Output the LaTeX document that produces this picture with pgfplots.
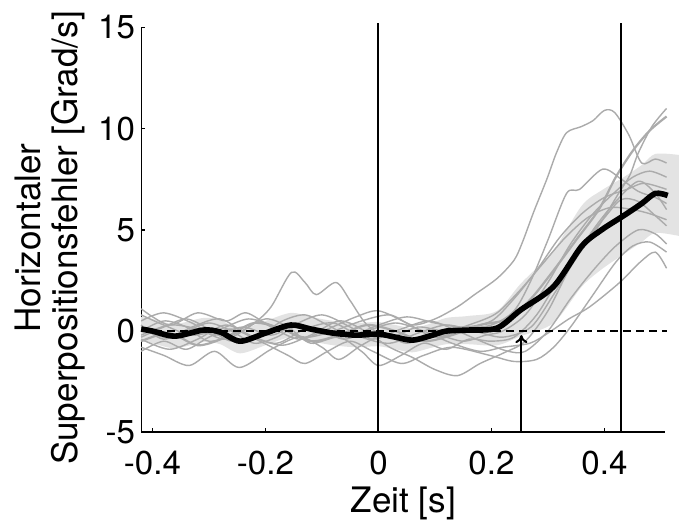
\documentclass[border=0pt]{standalone}
\usepackage{fontspec}
\setmainfont{TeX Gyre Heros}
\usepackage{pgfplots}
\pgfplotsset{compat=1.18}
\usepgfplotslibrary{fillbetween}
\usetikzlibrary{arrows.meta}
\definecolor{trace}{HTML}{ABABAB}
\definecolor{bandc}{HTML}{E3E3E3}
\begin{document}
\fontsize{16.5}{19}\selectfont
\begin{tikzpicture}
\begin{axis}[
 scale only axis, width=261.4pt, height=202pt,
 xmin=-0.4197, xmax=0.5077, ymin=-5, ymax=15,
 axis lines=left, axis line style={-, line width=0.8pt},
 clip=false,
 xtick={-0.4,-0.2,0,0.2,0.4}, xticklabels={-0.4,-0.2,0,0.2,0.4},
 ytick={-5,0,5,10,15}, yticklabels={-5,0,5,10,15},
 tick align=inside, major tick length=2pt, tick style={line width=0.8pt, black},
 xticklabel style={inner sep=0pt, anchor=north, yshift=-9pt},
 yticklabel style={inner sep=0pt, anchor=east, xshift=-3pt},
 xlabel={Zeit [s]},
 xlabel style={at={(axis description cs:0.5,-0.198)}, anchor=base, inner sep=2pt, font=\fontsize{17.5}{20}\selectfont},
 ylabel={Horizontaler\\Superpositionsfehler [Grad/s]},
 ylabel style={at={(axis description cs:-0.174,0.48)}, anchor=center, align=center, font=\fontsize{17.5}{18.5}\selectfont, inner xsep=5.5pt, inner ysep=7.5pt},
]
% band
\addplot[draw=none, smooth, name path=U] coordinates {(-0.42,0.7) (-0.40,0.6) (-0.36,0.35) (-0.31,0.65) (-0.28,0.55) (-0.245,0.1) (-0.20,0.5) (-0.155,0.9) (-0.12,0.7) (-0.08,0.5) (-0.04,0.4) (0,0.45) (0.03,0.3) (0.06,0.15) (0.09,0.35) (0.12,0.65) (0.16,0.75) (0.21,1.0) (0.252,2.35) (0.31,4.0) (0.36,6.2) (0.395,6.95) (0.434,7.6) (0.466,8.2) (0.49,8.75) (0.532,8.7)};
\addplot[draw=none, smooth, name path=L] coordinates {(-0.42,-0.5) (-0.40,-0.6) (-0.36,-0.85) (-0.31,-0.55) (-0.28,-0.65) (-0.245,-1.1) (-0.20,-0.7) (-0.155,-0.3) (-0.12,-0.5) (-0.08,-0.7) (-0.04,-0.8) (0,-0.75) (0.03,-0.9) (0.06,-1.05) (0.09,-0.85) (0.12,-0.65) (0.16,-0.65) (0.21,-0.7) (0.252,-0.25) (0.31,0.4) (0.36,2.2) (0.395,3.05) (0.434,3.8) (0.466,4.4) (0.49,4.85) (0.532,4.7)};
\addplot[fill=bandc, draw=none] fill between[of=U and L];
% traces
\addplot[trace, line width=0.7pt, smooth] coordinates {(-0.42,0.3) (-0.38,-0.4) (-0.33,0.2) (-0.28,0.6) (-0.23,-0.2) (-0.18,-0.6) (-0.13,0.1) (-0.08,0.4) (-0.03,-0.3) (0.02,-0.6) (0.07,-0.1) (0.12,0.3) (0.17,0.0) (0.22,-0.3) (0.27,0.2) (0.31,1.8) (0.35,3.6) (0.39,5.2) (0.425,6.8) (0.445,7.7) (0.46,8.8) (0.484,10.1) (0.51,11.0)};
\addplot[trace, line width=1.1pt, smooth] coordinates {(-0.42,-0.5) (-0.37,-0.1) (-0.32,-0.7) (-0.27,-0.3) (-0.22,0.4) (-0.17,0.1) (-0.12,-0.5) (-0.07,-0.2) (-0.02,0.3) (0.03,0.0) (0.08,-0.5) (0.13,-0.2) (0.18,0.3) (0.23,0.6) (0.27,1.6) (0.31,3.0) (0.35,4.5) (0.39,6.0) (0.42,7.6) (0.45,8.9) (0.48,9.9) (0.51,10.6)};
\addplot[trace, line width=0.7pt, smooth] coordinates {(-0.42,0.8) (-0.38,0.3) (-0.33,-0.2) (-0.28,0.1) (-0.23,0.6) (-0.18,0.2) (-0.13,-0.3) (-0.08,0.0) (-0.03,0.5) (0.02,0.8) (0.06,0.3) (0.10,0.6) (0.14,1.2) (0.17,1.8) (0.21,2.6) (0.24,3.5) (0.255,4.4) (0.275,5.9) (0.298,7.5) (0.315,8.8) (0.333,9.8) (0.359,10.1) (0.38,10.4) (0.40,10.9) (0.418,10.8) (0.443,9.7) (0.466,8.3) (0.49,8.5) (0.51,8.3)};
\addplot[trace, line width=0.7pt, smooth] coordinates {(-0.42,1.1) (-0.37,0.3) (-0.32,0.9) (-0.27,0.5) (-0.234,0.9) (-0.19,0.2) (-0.14,-0.4) (-0.09,0.1) (-0.04,0.7) (0.0,1.0) (0.05,0.4) (0.10,-0.3) (0.15,0.1) (0.20,0.3) (0.24,1.0) (0.27,2.5) (0.30,4.5) (0.333,6.8) (0.356,7.0) (0.397,8.0) (0.43,7.5) (0.46,6.9) (0.49,6.6) (0.51,6.3)};
\addplot[trace, line width=0.7pt, smooth] coordinates {(-0.42,-0.8) (-0.38,-1.2) (-0.335,-1.7) (-0.29,-1.0) (-0.246,-1.8) (-0.19,-0.9) (-0.14,-0.3) (-0.10,-0.8) (-0.07,-1.4) (-0.03,-0.7) (0.01,-0.2) (0.05,-0.6) (0.10,-0.2) (0.15,-0.5) (0.19,-0.2) (0.22,0.0) (0.26,0.8) (0.30,2.4) (0.34,4.3) (0.38,5.8) (0.42,6.9) (0.45,7.6) (0.48,7.9) (0.51,7.6)};
\addplot[trace, line width=0.7pt, smooth] coordinates {(-0.42,0.0) (-0.38,0.5) (-0.34,0.2) (-0.30,-0.5) (-0.25,-0.1) (-0.20,0.6) (-0.16,0.2) (-0.12,-0.6) (-0.07,-0.3) (-0.03,-1.0) (0.0,-1.7) (0.04,-1.2) (0.08,-0.6) (0.12,-0.9) (0.16,-0.4) (0.20,-0.5) (0.24,-0.3) (0.28,0.8) (0.32,2.6) (0.36,4.2) (0.40,5.6) (0.43,6.5) (0.46,6.4) (0.49,5.7) (0.51,5.2)};
\addplot[trace, line width=0.7pt, smooth] coordinates {(-0.42,-0.4) (-0.37,-0.9) (-0.32,-0.4) (-0.27,0.3) (-0.22,-0.3) (-0.17,-0.7) (-0.12,-0.2) (-0.07,0.5) (-0.03,0.1) (0.02,-0.8) (0.06,-1.3) (0.10,-1.9) (0.14,-2.2) (0.18,-1.6) (0.22,-1.1) (0.26,-0.5) (0.30,1.0) (0.34,3.2) (0.38,5.0) (0.42,6.4) (0.46,7.4) (0.49,6.8) (0.51,6.0)};
\addplot[trace, line width=0.7pt, smooth] coordinates {(-0.42,0.5) (-0.38,0.9) (-0.33,0.4) (-0.29,-0.2) (-0.24,0.2) (-0.19,-0.2) (-0.15,0.3) (-0.10,0.8) (-0.05,0.2) (-0.01,-0.4) (0.04,0.1) (0.09,0.5) (0.14,0.0) (0.19,-0.6) (0.23,-1.0) (0.26,-1.0) (0.30,0.0) (0.34,1.6) (0.38,3.0) (0.42,4.2) (0.46,5.0) (0.49,4.8) (0.51,4.3)};
\addplot[trace, line width=0.7pt, smooth] coordinates {(-0.42,-1.0) (-0.38,-0.5) (-0.34,-0.9) (-0.30,-0.3) (-0.26,0.1) (-0.21,-0.5) (-0.16,-1.2) (-0.13,-1.6) (-0.09,-1.0) (-0.05,-0.5) (-0.01,-1.0) (0.04,-1.6) (0.08,-1.2) (0.13,-0.8) (0.197,-1.2) (0.24,-1.5) (0.28,-1.4) (0.31,-0.8) (0.34,0.2) (0.38,1.8) (0.42,3.4) (0.45,4.2) (0.48,4.4) (0.51,3.9)};
\addplot[trace, line width=0.7pt, smooth] coordinates {(-0.42,0.2) (-0.38,-0.3) (-0.34,0.0) (-0.30,0.4) (-0.26,0.0) (-0.22,-0.6) (-0.18,-0.3) (-0.14,0.3) (-0.10,0.0) (-0.06,-0.4) (-0.02,0.0) (0.03,0.4) (0.08,0.0) (0.13,-0.6) (0.18,-1.0) (0.22,-0.8) (0.268,-0.6) (0.30,-0.1) (0.337,0.6) (0.374,1.2) (0.427,2.4) (0.463,3.4) (0.49,3.9) (0.51,3.1)};
\addplot[trace, line width=0.7pt, smooth] coordinates {(-0.42,-0.3) (-0.38,0.2) (-0.34,0.6) (-0.30,0.1) (-0.26,-0.5) (-0.21,-0.2) (-0.17,0.5) (-0.13,0.8) (-0.09,0.3) (-0.05,-0.2) (0.0,0.3) (0.05,0.7) (0.10,0.4) (0.15,0.2) (0.20,0.5) (0.24,1.6) (0.28,3.0) (0.32,4.6) (0.36,5.8) (0.40,6.6) (0.44,7.0) (0.47,7.3) (0.51,7.0)};
\addplot[trace, line width=0.7pt, smooth] coordinates {(-0.42,-0.2) (-0.37,0.3) (-0.32,0.1) (-0.27,-0.4) (-0.22,0.4) (-0.19,1.2) (-0.154,2.9) (-0.13,2.4) (-0.11,1.8) (-0.075,2.4) (-0.05,1.5) (-0.02,0.3) (0.02,-0.3) (0.07,0.2) (0.12,0.0) (0.17,0.4) (0.21,0.9) (0.25,2.0) (0.29,3.3) (0.33,4.6) (0.37,5.6) (0.41,6.1) (0.45,6.0) (0.48,5.8) (0.51,5.5)};
% dashed zero line
\addplot[black, line width=1.1pt, dash pattern=on 4pt off 2.5pt] coordinates {(-0.4197,0) (0.51,0)};
% vertical lines
\addplot[black, line width=1pt] coordinates {(0,-5) (0,15.2)};
\addplot[black, line width=1pt] coordinates {(0.43,-5) (0.43,15.2)};
% mean
\addplot[black, line width=2.8pt, smooth] coordinates {(-0.42,0.1) (-0.40,0.0) (-0.36,-0.25) (-0.31,0.05) (-0.28,-0.05) (-0.245,-0.5) (-0.20,-0.1) (-0.155,0.3) (-0.12,0.1) (-0.08,-0.1) (-0.04,-0.2) (0,-0.15) (0.03,-0.3) (0.06,-0.45) (0.09,-0.25) (0.12,0) (0.16,0.05) (0.21,0.15) (0.252,1.05) (0.31,2.2) (0.36,4.2) (0.395,5.0) (0.434,5.7) (0.466,6.3) (0.49,6.8) (0.512,6.7)};
% arrow
\addplot[black, line width=1pt, -{To[length=4pt,width=6pt]}] coordinates {(0.253,-5) (0.253,-0.2)};
\end{axis}
\end{tikzpicture}
\end{document}
